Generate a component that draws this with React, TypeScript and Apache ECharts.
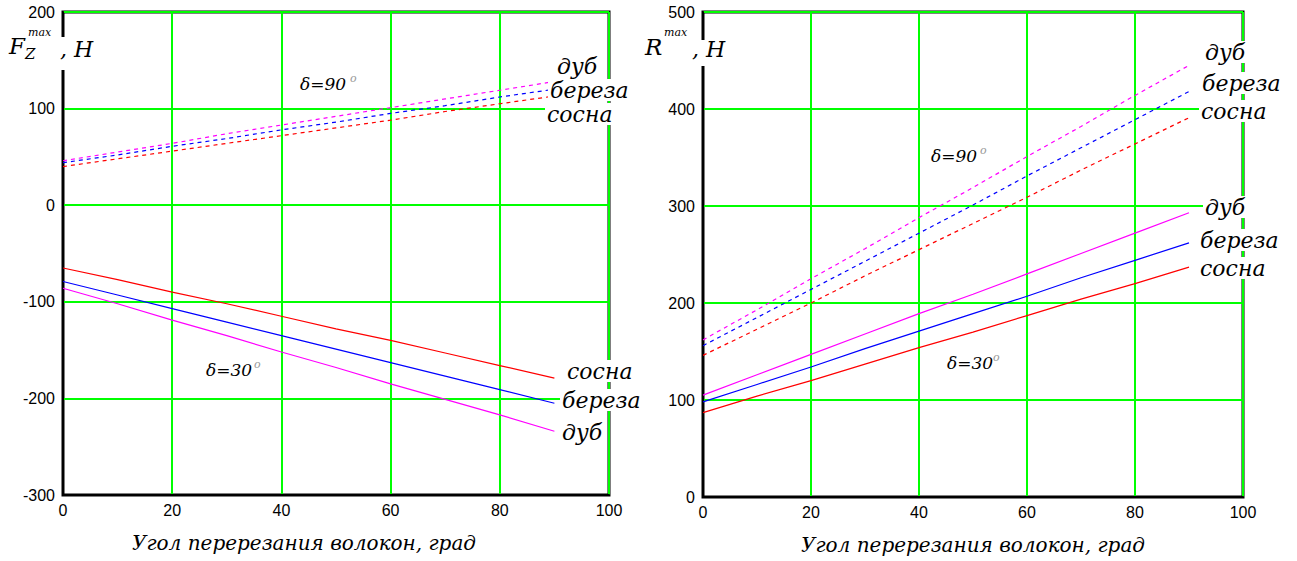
import React, { useEffect, useRef } from "react";
import * as echarts from "echarts";

const angles = [0, 10, 20, 30, 40, 50, 60, 70, 80, 90];

// Left chart: Fz max, H
const fzPine30 = [-65, -77, -90, -102, -115, -128, -140, -153, -166, -179];
const fzBirch30 = [-79, -93, -107, -121, -135, -149, -163, -177, -191, -205];
const fzOak30 = [-86, -102, -119, -135, -152, -168, -185, -201, -217, -234];
const fzOak90 = [46, 55, 64, 74, 83, 92, 101, 110, 119, 128];
const fzBirch90 = [44, 52, 61, 69, 78, 86, 95, 103, 112, 120];
const fzPine90 = [40, 48, 56, 64, 72, 80, 88, 97, 105, 113];

// Right chart: R max, H
const rOak30 = [105, 126, 147, 168, 189, 209, 230, 251, 272, 293];
const rBirch30 = [98, 116, 134, 153, 171, 189, 207, 226, 244, 262];
const rPine30 = [87, 104, 120, 137, 154, 170, 187, 204, 220, 237];
const rOak90 = [162, 193, 225, 256, 288, 319, 351, 382, 414, 445];
const rBirch90 = [156, 185, 214, 243, 272, 301, 331, 360, 389, 418];
const rPine90 = [146, 173, 200, 228, 255, 282, 309, 337, 364, 391];

const xTitle = "Угол перерезания волокон, град";

const RED = "#ff0000";
const BLUE = "#0000ff";
const MAG = "#ff00ff";
const GREEN = "#00ff00";
const SERIF = "'DejaVu Serif', 'Liberation Serif', serif";
const SANS = "'Liberation Sans Narrow', 'Liberation Sans', Arial, sans-serif";

const pairs = (ys: number[]) => ys.map((y, i) => [angles[i], y]);

function line(name: string, ys: number[], color: string, dashed: boolean, idx: number) {
  return {
    type: "line",
    name,
    xAxisIndex: idx,
    yAxisIndex: idx,
    data: pairs(ys),
    showSymbol: false,
    symbol: "none",
    silent: true,
    z: 5,
    lineStyle: { color, width: 1.2, type: dashed ? [4, 4] : "solid" },
  };
}

function lbl(text: string, x: number, y: number, size = 22) {
  return {
    type: "text",
    x,
    y,
    z: 100,
    style: {
      text,
      font: `italic ${size}px ${SERIF}`,
      fill: "#000",
      backgroundColor: "#fff",
      padding: [0, 2, 0, 2],
      verticalAlign: "middle",
      align: "left",
    },
  };
}

function plain(text: string, x: number, y: number, size: number, fill = "#000", align = "left") {
  return {
    type: "text",
    x,
    y,
    z: 101,
    style: {
      text,
      font: `italic ${size}px ${SERIF}`,
      fill,
      verticalAlign: "middle",
      align,
    },
  };
}

function axisX(gridIndex: number) {
  return {
    type: "value",
    gridIndex,
    min: 0,
    max: 100,
    interval: 20,
    axisLine: { show: true, onZero: false, lineStyle: { color: "#000", width: 2 } },
    axisTick: { show: false },
    axisLabel: { color: "#000", fontFamily: SANS, fontSize: 16, margin: 7 },
    splitLine: { show: true, lineStyle: { color: GREEN, width: 2 } },
  };
}

function axisY(gridIndex: number, min: number, max: number) {
  return {
    type: "value",
    gridIndex,
    min,
    max,
    interval: 100,
    axisLine: { show: true, onZero: false, lineStyle: { color: "#000", width: 2 } },
    axisTick: { show: false },
    axisLabel: { color: "#000", fontFamily: SANS, fontSize: 16, margin: 8 },
    splitLine: { show: true, lineStyle: { color: GREEN, width: 2 } },
  };
}

export default function App() {
  const ref = useRef<HTMLDivElement>(null);
  useEffect(() => {
    if (!ref.current) return;
    const chart = echarts.init(ref.current, undefined, { renderer: "svg" });
    chart.setOption({
      animation: false,
      backgroundColor: "#fff",
      grid: [
        { left: 63, top: 12, width: 546, height: 483, show: true, borderColor: "#000", borderWidth: 3, backgroundColor: "transparent" },
        { left: 703, top: 12, width: 540, height: 485, show: true, borderColor: "#000", borderWidth: 3, backgroundColor: "transparent" },
      ],
      xAxis: [axisX(0), axisX(1)],
      yAxis: [axisY(0, -300, 200), axisY(1, 0, 500)],
      series: [
        line("сосна δ=30", fzPine30, RED, false, 0),
        line("береза δ=30", fzBirch30, BLUE, false, 0),
        line("дуб δ=30", fzOak30, MAG, false, 0),
        line("дуб δ=90", fzOak90, MAG, true, 0),
        line("береза δ=90", fzBirch90, BLUE, true, 0),
        line("сосна δ=90", fzPine90, RED, true, 0),
        line("дуб δ=30", rOak30, MAG, false, 1),
        line("береза δ=30", rBirch30, BLUE, false, 1),
        line("сосна δ=30", rPine30, RED, false, 1),
        line("дуб δ=90", rOak90, MAG, true, 1),
        line("береза δ=90", rBirch90, BLUE, true, 1),
        line("сосна δ=90", rPine90, RED, true, 1),
      ],
      graphic: [
        // axis titles
        plain(xTitle, 304, 543, 20, "#000", "center"),
        plain(xTitle, 973, 545, 20, "#000", "center"),
        // left y title
        { type: "rect", z: 99, shape: { x: 57, y: 37, width: 12, height: 33 }, style: { fill: "#fff" } },
        plain("F", 9, 46, 23),
        plain("Z", 25, 54, 15),
        plain("max", 28, 32, 11),
        plain(", H", 60, 49, 22),
        // right y title
        { type: "rect", z: 99, shape: { x: 697, y: 40, width: 12, height: 26 }, style: { fill: "#fff" } },
        plain("R", 645, 47, 23),
        plain("max", 664, 32, 11),
        plain(", H", 692, 49, 22),
        // left labels
        lbl("дуб", 555, 66),
        lbl("береза", 548, 90),
        lbl("сосна", 545, 114),
        lbl("сосна", 565, 371),
        lbl("береза", 560, 400),
        lbl("дуб", 560, 432),
        // right labels
        lbl("дуб", 1203, 52),
        lbl("береза", 1200, 83),
        lbl("сосна", 1199, 111),
        lbl("дуб", 1203, 207),
        lbl("береза", 1198, 240),
        lbl("сосна", 1198, 268),
        // delta labels
        plain("δ=90", 300, 84, 17),
        plain("o", 350, 78, 11, "#999"),
        plain("δ=30", 206, 370, 17),
        plain("o", 254, 364, 11, "#999"),
        plain("δ=90", 931, 156, 17),
        plain("o", 980, 150, 11, "#999"),
        plain("δ=30", 947, 363, 17),
        plain("o", 993, 357, 11, "#999"),
      ],
    });
    return () => chart.dispose();
  }, []);
  return (
    <div
      ref={ref}
      style={{ position: "absolute", left: 0, top: 0, width: 1297, height: 561, background: "#fff" }}
    />
  );
}
